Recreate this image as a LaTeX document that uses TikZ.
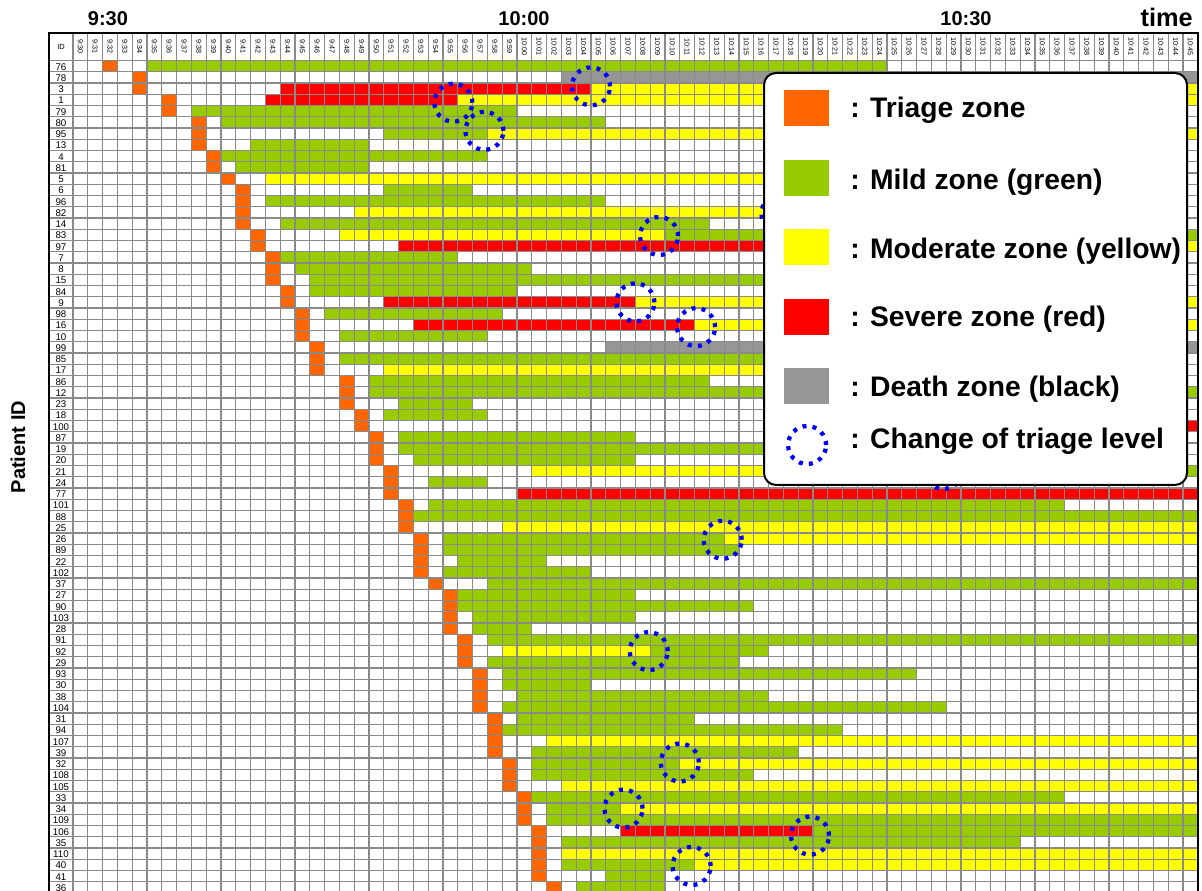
\documentclass[tikz,border=0pt]{standalone}
\usepackage{fontspec}
\setmainfont{Liberation Sans}
\usetikzlibrary{positioning}

\definecolor{triagec}{HTML}{FF6600}
\definecolor{mildc}{HTML}{99CC00}
\definecolor{moderatec}{HTML}{FFFF00}
\definecolor{severec}{HTML}{FF0000}
\definecolor{deathc}{HTML}{969696}
\definecolor{gridc}{HTML}{8A8A8A}
\definecolor{changec}{HTML}{0000FF}

\tikzset{
  triage/.style={fill=triagec},
  mild/.style={fill=mildc},
  moderate/.style={fill=moderatec},
  severe/.style={fill=severec},
  death/.style={fill=deathc},
  gridline/.style={draw=gridc,line width=0.9pt},
  change/.style={draw=changec,line width=3.2pt,dash pattern=on 3pt off 4.6pt},
  idlabel/.style={font=\fontsize{7.3}{8}\selectfont,inner sep=0pt},
  timelabel/.style={font=\fontsize{5.4}{6}\selectfont,rotate=-90,inner sep=0pt},
  toplabel/.style={font=\fontsize{15}{18}\selectfont\bfseries,inner sep=0pt},
  swatch/.style={minimum width=33.75pt,minimum height=27pt,inner sep=0pt},
  legtext/.style={font=\fontsize{21.2}{25}\selectfont\bfseries,inner sep=0pt,anchor=base west}
}

\begin{document}
\begin{tikzpicture}[x=11.1pt,y=-8.4375pt]
    \useasboundingbox (-4.932,-5.378) rectangle (76.284,73.822);

    % zone cells: row/first/last/zone
    \foreach \r/\a/\b/\z in {0/5/54/mild, 1/33/75/death, 2/14/34/severe, 2/35/75/moderate,
        3/13/25/severe, 3/26/75/moderate, 4/8/29/mild, 5/10/35/mild, 6/21/27/mild, 6/28/75/moderate,
        7/12/19/mild, 8/10/27/mild, 9/11/19/mild, 10/13/70/moderate, 11/21/26/mild, 12/13/35/mild,
        13/19/60/moderate, 14/14/42/mild, 15/18/39/moderate, 15/40/75/mild, 16/22/60/severe, 16/61/75/moderate,
        17/14/25/mild, 18/15/30/mild, 19/16/70/mild, 20/16/29/mild, 21/21/37/severe, 21/38/75/moderate,
        22/17/28/mild, 23/23/41/severe, 23/42/75/moderate, 24/18/27/mild, 25/36/75/death, 26/18/70/mild,
        27/21/70/moderate, 28/20/42/mild, 29/20/75/mild, 30/22/26/mild, 31/21/27/mild, 32/55/75/severe,
        33/22/37/mild, 34/22/70/mild, 35/23/37/mild, 36/31/58/moderate, 36/59/75/mild, 37/24/27/mild,
        38/30/75/severe, 39/24/66/mild, 40/23/75/mild, 41/29/75/moderate, 42/25/43/mild, 42/44/75/moderate,
        43/25/44/mild, 44/26/31/mild, 45/25/34/mild, 46/28/75/mild, 47/26/37/mild, 48/26/45/mild,
        49/27/37/mild, 50/27/30/mild, 51/28/75/mild, 52/29/38/moderate, 52/39/46/mild, 53/28/44/mild,
        54/29/56/mild, 55/29/34/mild, 56/30/46/mild, 57/29/58/mild, 58/30/41/mild, 59/29/51/mild,
        60/32/75/moderate, 61/31/48/mild, 62/31/40/mild, 62/41/75/moderate, 63/31/45/mild, 64/33/75/moderate,
        65/31/66/mild, 66/32/36/mild, 66/37/75/moderate, 67/32/75/mild, 68/37/49/severe, 68/50/75/mild,
        69/33/63/mild, 70/33/75/moderate, 71/33/41/mild, 71/42/75/moderate, 72/36/39/mild, 73/34/39/mild}
        \fill[\z] (\a,\r) rectangle (\b+1,\r+1);

    % triage cells and patient IDs: row/ID/column
    \foreach \r/\id/\t in {0/76/2, 1/78/4, 2/3/4, 3/1/6, 4/79/6, 5/80/8, 6/95/8, 7/13/8, 8/4/9, 9/81/9,
        10/5/10, 11/6/11, 12/96/11, 13/82/11, 14/14/11, 15/83/12, 16/97/12, 17/7/13, 18/8/13, 19/15/13,
        20/84/14, 21/9/14, 22/98/15, 23/16/15, 24/10/15, 25/99/16, 26/85/16, 27/17/16, 28/86/18, 29/12/18,
        30/23/18, 31/18/19, 32/100/19, 33/87/20, 34/19/20, 35/20/20, 36/21/21, 37/24/21, 38/77/21, 39/101/22,
        40/88/22, 41/25/22, 42/26/23, 43/89/23, 44/22/23, 45/102/23, 46/37/24, 47/27/25, 48/90/25, 49/103/25,
        50/28/25, 51/91/26, 52/92/26, 53/29/26, 54/93/27, 55/30/27, 56/38/27, 57/104/27, 58/31/28, 59/94/28,
        60/107/28, 61/39/28, 62/32/29, 63/108/29, 64/105/29, 65/33/30, 66/34/30, 67/109/30, 68/106/31,
        69/35/31, 70/110/31, 71/40/31, 72/41/31, 73/36/32} {
        \fill[triage] (\t,\r) rectangle (\t+1,\r+1);
        \node[idlabel] (id\id) at (-0.811,\r+0.55) {\id};
    }

    % grid
    \foreach \c in {0,...,76}
        \draw[gridline] (\c,-2.444) -- (\c,74);
    \foreach \r in {0,...,74}
        \draw[gridline] (-1.622,\r) -- (76,\r);
    \draw[line width=1.3pt] (-1.622,74) -- (-1.622,-2.444) -- (76,-2.444) -- (76,74);

    % minute headers
    \node[font=\fontsize{5.6}{6}\selectfont,inner sep=0pt] (idhead) at (-0.811,-1.222) {ID};
    \foreach \c in {0,...,75} {
        \pgfmathtruncatemacro\mm{mod(30+\c,60)}
        \pgfmathtruncatemacro\hh{9+floor((30+\c)/60)}
        \node[timelabel] (t\c) at (\c+0.5,-1.222) {\hh:\ifnum\mm<10 0\fi\mm};
    }

    % change of triage level
    \foreach \x/\y in {25.7/3.75, 35/2.3, 27.8/6.25, 39.6/15.6, 38/21.5, 42.1/23.7, 47.8/13.6,
        58.8/36.4, 43.9/42.6, 38.9/52.5, 41/62.4, 37.2/66.5, 49.8/68.9, 41.8/71.6}
        \draw[change] (\x,\y) circle[radius=14.25pt];

    % legend
    \draw[fill=white,line width=1.5pt,rounded corners=9pt] (46.69,1.111) rectangle (75.27,37.73);
    \node[swatch,triage] (swtriage) at (49.56,4.22) {};
    \node[swatch,mild] (swmild) at (49.56,10.44) {};
    \node[swatch,moderate] (swmoderate) at (49.56,16.58) {};
    \node[swatch,severe] (swsevere) at (49.56,22.8) {};
    \node[swatch,death] (swdeath) at (49.56,28.93) {};
    \node[change,circle,minimum size=28.5pt,inner sep=0pt] (swchange) at (49.6,34.18) {};
    \node[legtext] (txtriage) at (52.5,5.11) {: Triage zone};
    \node[legtext] (txmild) at (52.5,11.45) {: Mild zone (green)};
    \node[legtext] (txmoderate) at (52.5,17.6) {: Moderate zone (yellow)};
    \node[legtext] (txsevere) at (52.5,23.6) {: Severe zone (red)};
    \node[legtext] (txdeath) at (52.5,29.89) {: Death zone (black)};
    \node[legtext] (txchange) at (52.5,34.53) {: Change of triage level};

    % axis titles
    \node[toplabel] (l930) at (2.36,-3.73) {9:30};
    \node[toplabel] (l1000) at (30.47,-3.73) {10:00};
    \node[toplabel] (l1030) at (60.34,-3.73) {10:30};
    \node[toplabel,font=\fontsize{19}{22}\selectfont\bfseries] (ltime) at (73.9,-3.85) {time};
    \node[toplabel,rotate=90] (lpatient) at (-3.716,34.36) {Patient ID};
\end{tikzpicture}
\end{document}
